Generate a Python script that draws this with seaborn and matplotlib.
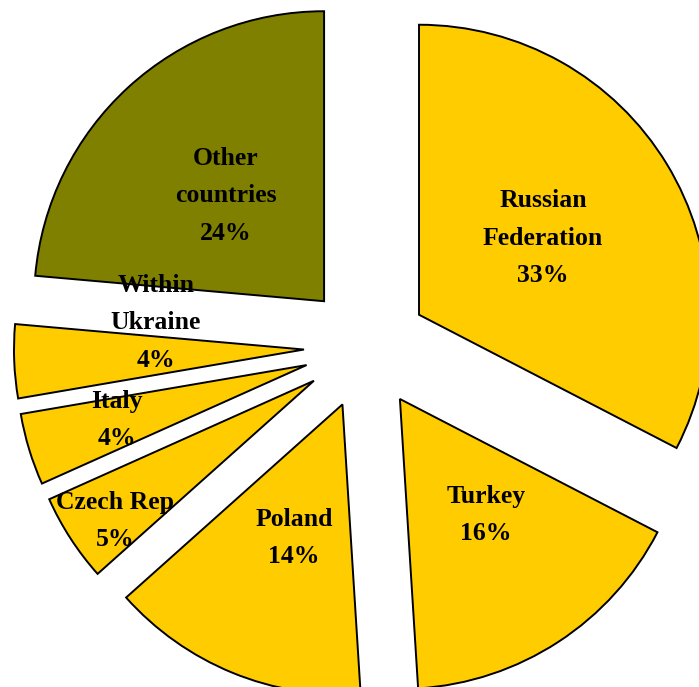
import matplotlib
matplotlib.use("Agg")
import matplotlib.pyplot as plt
import seaborn as sns

# data (shares in %, labels shown rounded)
countries = ["Russian\nFederation", "Turkey", "Poland", "Czech Rep", "Italy",
             "Within\nUkraine", "Other\ncountries"]
shares = [32.6, 16.4, 14.4, 4.9, 4.0, 4.1, 23.6]
colors = ["#FFCC00"] * 6 + ["#808000"]

# label centres, pixel coords in the 699x687 picture
label_px = [(543, 238), (486, 515), (294, 538), (115, 521), (117, 420),
            (156, 323), (226, 196)]

sns.set_theme(style="white")
plt.rcParams["font.family"] = ["Liberation Serif", "DejaVu Serif"]

W, H = 699, 687
fig = plt.figure(figsize=(W / 100, H / 100), dpi=100)
ax = fig.add_axes([0, 0, 1, 1])

ax.pie(shares, colors=colors, startangle=90, counterclock=False,
       explode=[0.214] * len(shares), radius=1.0,
       wedgeprops=dict(edgecolor="black", linewidth=1.4))

# pie centre at (366, 347) px, radius 290 px -> clipped like the original
cx, cy, r = 366, 347, 290
ax.set_xlim(-cx / r, (W - cx) / r)
ax.set_ylim(-(H - cy) / r, cy / r)
ax.set_aspect("auto")
ax.axis("off")

for name, val, (px, py) in zip(countries, shares, label_px):
    ax.text(px / W, 1 - py / H, f"{name}\n{round(val)}%", transform=ax.transAxes,
            ha="center", va="center", fontsize=18.5, fontweight="bold",
            linespacing=1.8, color="black")

fig.savefig("out.png", dpi=100)
